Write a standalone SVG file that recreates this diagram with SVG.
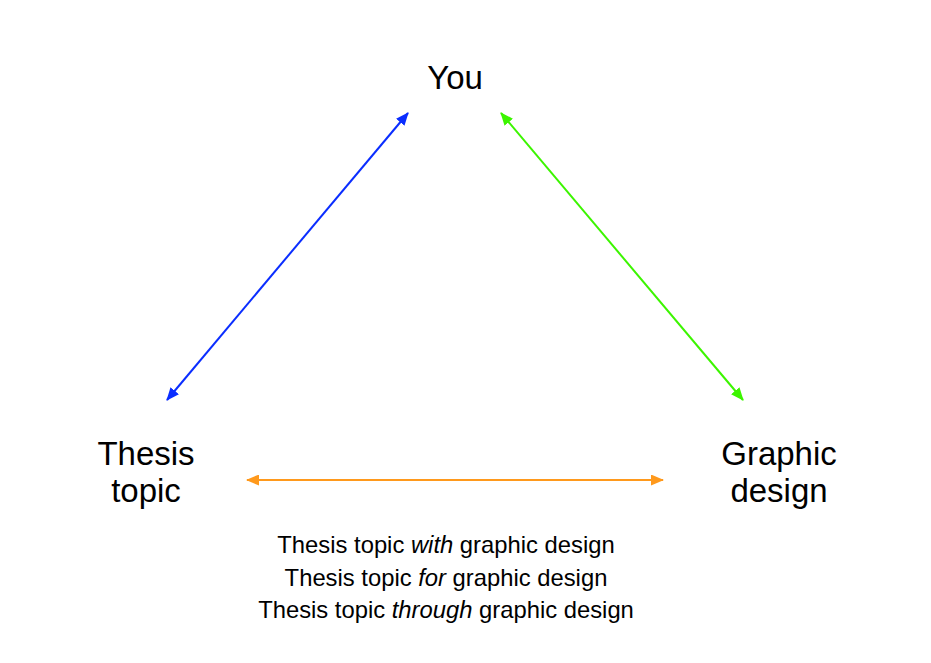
<svg xmlns="http://www.w3.org/2000/svg" width="931" height="663" viewBox="0 0 931 663">
<style>
.big{font-family:"Liberation Sans",Arial,sans-serif;font-size:33px;fill:#000;text-anchor:middle}
.small{font-family:"Liberation Sans",Arial,sans-serif;font-size:23.8px;fill:#000;text-anchor:middle}
.c{fill:none;stroke-width:2}
</style>
<defs>
<marker id="mb" viewBox="0 0 13 11" refX="12" refY="5.5" markerWidth="13" markerHeight="11" markerUnits="userSpaceOnUse" orient="auto-start-reverse"><path d="M0,0 L13,5.5 L0,11 Z" fill="#0a2dff"/></marker>
<marker id="mg" viewBox="0 0 13 11" refX="12" refY="5.5" markerWidth="13" markerHeight="11" markerUnits="userSpaceOnUse" orient="auto-start-reverse"><path d="M0,0 L13,5.5 L0,11 Z" fill="#3cf500"/></marker>
<marker id="mo" viewBox="0 0 13 11" refX="12" refY="5.5" markerWidth="13" markerHeight="11" markerUnits="userSpaceOnUse" orient="auto-start-reverse"><path d="M0,0 L13,5.5 L0,11 Z" fill="#ff991c"/></marker>
</defs>
<rect width="931" height="663" fill="#fff"/>
<g id="connectors">
<line class="c" x1="167" y1="400" x2="408" y2="113" stroke="#0a2dff" marker-start="url(#mb)" marker-end="url(#mb)"/>
<line class="c" x1="501" y1="113" x2="743" y2="400" stroke="#3cf500" marker-start="url(#mg)" marker-end="url(#mg)"/>
<line class="c" x1="247" y1="480" x2="663" y2="480" stroke="#ff991c" marker-start="url(#mo)" marker-end="url(#mo)"/>
</g>
<g id="you"><text class="big" x="455" y="89">You</text></g>
<g id="thesis"><text class="big" x="146" y="465">Thesis</text><text class="big" x="146" y="502">topic</text></g>
<g id="graphic"><text class="big" x="779" y="465">Graphic</text><text class="big" x="779" y="502">design</text></g>
<g id="relations">
<text class="small" x="446" y="553">Thesis topic <tspan font-style="italic">with</tspan> graphic design</text>
<text class="small" x="446" y="586">Thesis topic <tspan font-style="italic">for</tspan> graphic design</text>
<text class="small" x="446" y="618">Thesis topic <tspan font-style="italic">through</tspan> graphic design</text>
</g>
</svg>
